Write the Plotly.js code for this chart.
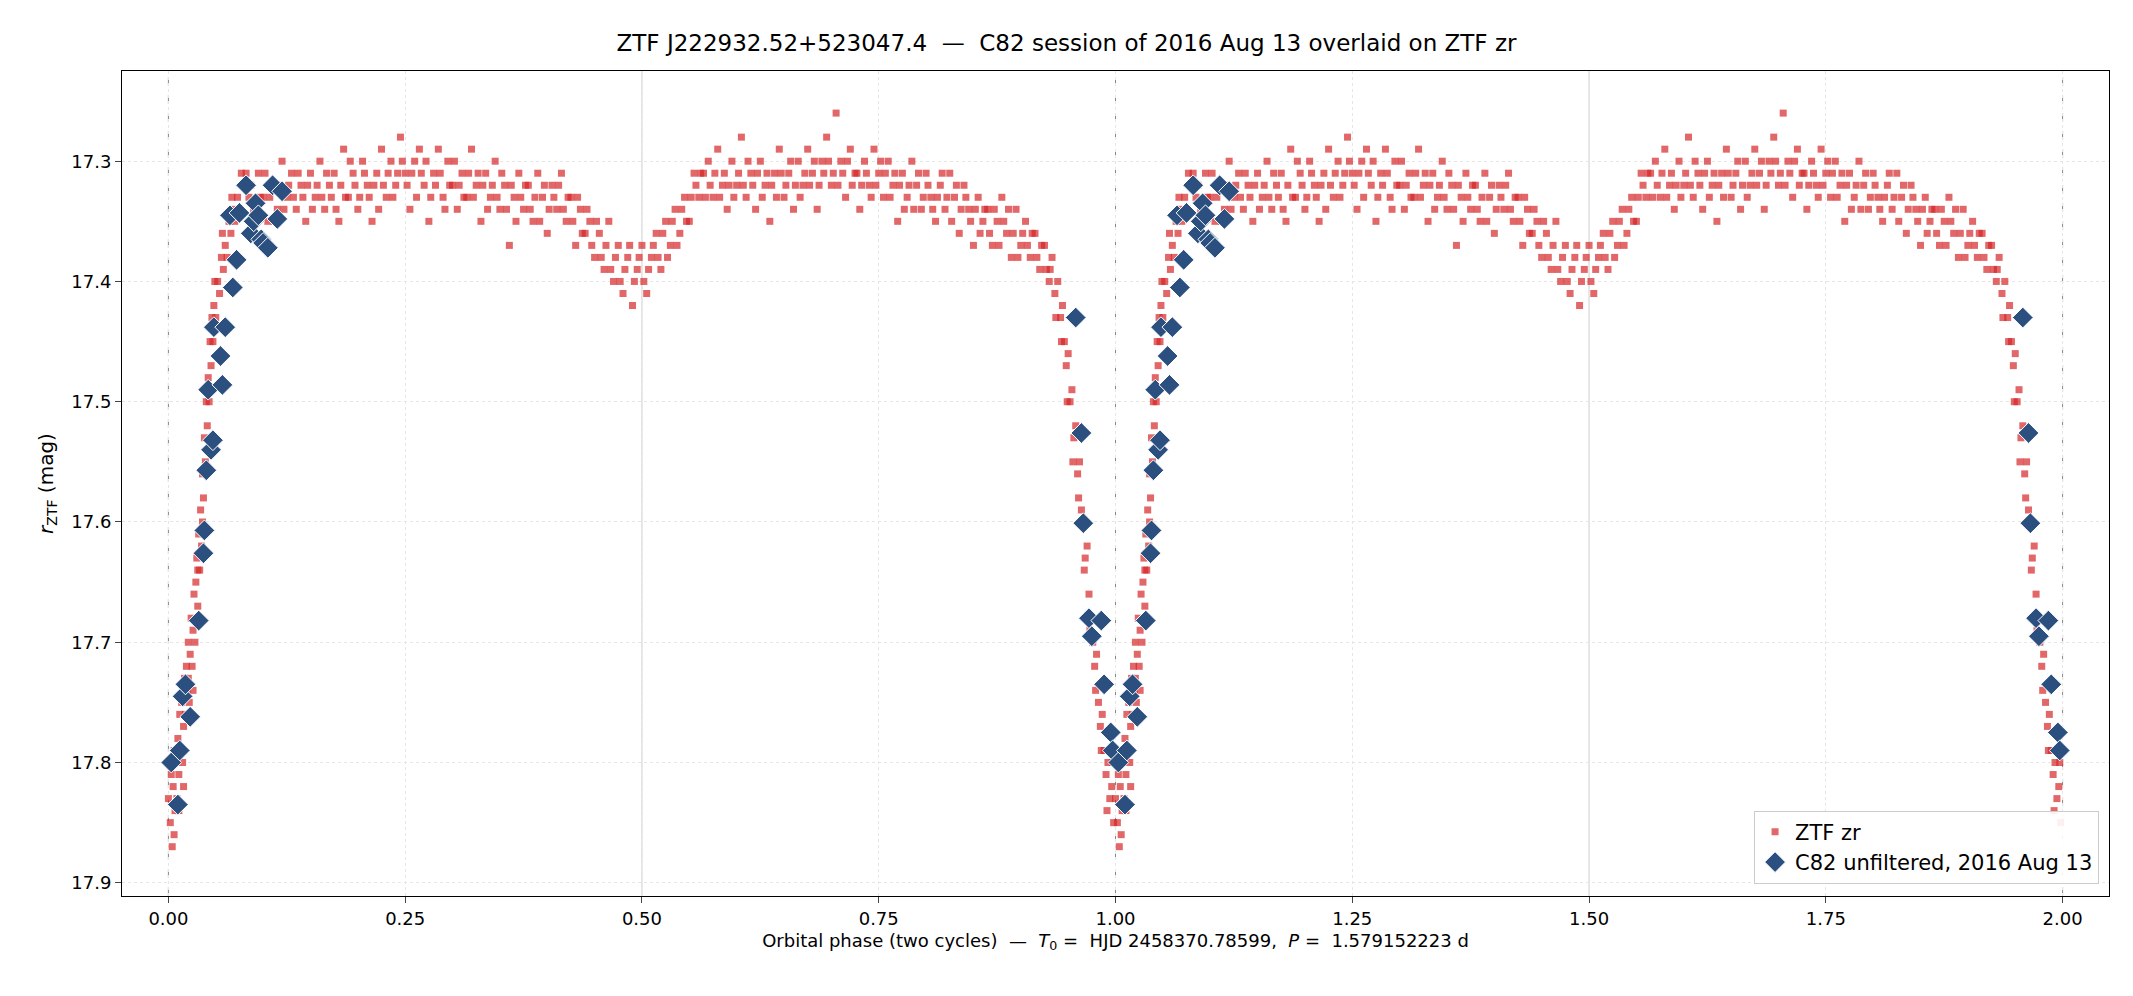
<!DOCTYPE html>
<html><head><meta charset="utf-8">
<script src="https://cdn.plot.ly/plotly-3.0.1.min.js"></script>
<style>body{margin:0;background:#fff}#c{width:2133px;height:996px}</style>
</head><body><div id="c"></div>
<script>
// ZTF zr, one cycle: [phase, mag]
const ztfCycle = [
[0.000,17.83],[0.002,17.85],[0.003,17.81],[0.004,17.87],[0.005,17.82],[0.006,17.79],[0.007,17.84],[0.008,17.80],[0.009,17.83],[0.010,17.78],
[0.011,17.81],[0.012,17.76],[0.013,17.79],[0.014,17.75],[0.015,17.80],[0.016,17.77],[0.017,17.73],[0.018,17.76],[0.019,17.72],[0.020,17.74],
[0.021,17.70],[0.022,17.75],[0.023,17.71],[0.024,17.68],[0.025,17.72],[0.026,17.69],[0.027,17.66],[0.028,17.70],[0.029,17.65],[0.030,17.63],
[0.031,17.67],[0.032,17.61],[0.033,17.64],[0.034,17.59],[0.035,17.62],[0.036,17.56],[0.037,17.58],[0.038,17.53],[0.039,17.55],[0.040,17.50],
[0.041,17.52],[0.042,17.48],[0.043,17.50],[0.044,17.45],[0.045,17.47],[0.046,17.43],[0.047,17.45],[0.048,17.42],[0.050,17.43],[0.052,17.40],
[0.054,17.41],[0.056,17.38],[0.058,17.39],[0.060,17.37],[0.062,17.38],[0.064,17.35],[0.066,17.36],[0.068,17.34],[0.070,17.35],[0.073,17.33],
[0.076,17.34],[0.079,17.32],[0.082,17.31],[0.085,17.33],
[0.090,17.34],[0.095,17.31],[0.100,17.33],[0.105,17.35],[0.110,17.32],[0.115,17.34],[0.120,17.30],[0.125,17.33],[0.130,17.31],[0.135,17.34],
[0.140,17.32],[0.145,17.35],[0.150,17.31],[0.155,17.33],[0.160,17.30],[0.165,17.34],[0.170,17.32],[0.175,17.31],[0.180,17.35],[0.185,17.29],
[0.190,17.33],[0.195,17.31],[0.200,17.34],[0.205,17.30],[0.210,17.32],[0.215,17.35],[0.220,17.31],[0.225,17.29],[0.230,17.33],[0.235,17.30],
[0.240,17.32],[0.245,17.28],[0.250,17.31],[0.255,17.34],[0.260,17.30],[0.265,17.29],[0.270,17.32],[0.275,17.35],[0.280,17.31],[0.285,17.29],
[0.290,17.33],[0.295,17.30],[0.300,17.32],[0.305,17.34],[0.310,17.31],[0.315,17.33],[0.320,17.29],[0.325,17.32],[0.330,17.35],[0.335,17.31],
[0.340,17.33],[0.345,17.30],[0.350,17.34],[0.355,17.32],[0.360,17.37],[0.365,17.33],[0.370,17.31],[0.375,17.34],[0.380,17.32],[0.385,17.35],
[0.390,17.31],[0.395,17.33],[0.400,17.36],[0.405,17.32],[0.410,17.34],[0.415,17.31],[0.420,17.35],[0.425,17.33],[0.430,17.37],[0.435,17.34],
[0.440,17.36],[0.445,17.35],
[0.450,17.38],[0.455,17.36],[0.460,17.39],[0.465,17.35],[0.470,17.40],[0.475,17.37],[0.480,17.41],[0.485,17.38],[0.490,17.42],[0.495,17.39],
[0.500,17.37],[0.505,17.41],[0.510,17.38],[0.515,17.36],[0.520,17.39],[0.525,17.35],[0.530,17.37],[0.535,17.34],[0.540,17.36],[0.545,17.33],
[0.550,17.35],[0.555,17.31],[0.560,17.33],
[0.565,17.31],[0.570,17.30],[0.575,17.33],[0.580,17.29],[0.585,17.32],[0.590,17.34],[0.595,17.30],[0.600,17.32],[0.605,17.28],[0.610,17.33],
[0.615,17.31],[0.620,17.34],[0.625,17.30],[0.630,17.32],[0.635,17.35],[0.640,17.31],[0.645,17.29],[0.650,17.33],[0.655,17.31],[0.660,17.34],
[0.665,17.30],[0.670,17.32],[0.675,17.29],[0.680,17.31],[0.685,17.34],[0.690,17.30],[0.695,17.28],[0.700,17.32],[0.705,17.26],[0.710,17.30],
[0.715,17.33],[0.720,17.29],[0.725,17.31],[0.730,17.34],[0.735,17.30],[0.740,17.32],[0.745,17.29],[0.750,17.31],[0.755,17.33],[0.760,17.30],
[0.765,17.32],[0.770,17.35],[0.775,17.31],[0.780,17.33],[0.785,17.30],[0.790,17.32],[0.795,17.34],[0.800,17.31],[0.805,17.33],[0.810,17.35],
[0.815,17.32],[0.820,17.34],[0.825,17.31],[0.830,17.33],[0.835,17.36],[0.840,17.32],[0.845,17.34],[0.850,17.37],[0.855,17.33],[0.860,17.35],
[0.865,17.34],[0.870,17.37],[0.875,17.35],[0.880,17.33],[0.885,17.36],[0.890,17.38],[0.895,17.34],[0.900,17.37],[0.905,17.35],[0.910,17.38],
[0.915,17.36],[0.920,17.39],[0.925,17.37],[0.930,17.40],[0.933,17.38],[0.936,17.41],[0.939,17.40],[0.942,17.43],[0.944,17.42],[0.946,17.45],
[0.948,17.47],[0.950,17.46],[0.952,17.50],[0.954,17.49],[0.956,17.53],[0.958,17.52],[0.960,17.56],[0.962,17.55],[0.964,17.59],[0.966,17.60],
[0.968,17.63],[0.970,17.62],[0.972,17.66],[0.974,17.68],[0.976,17.70],[0.978,17.72],[0.980,17.71],[0.982,17.75],[0.984,17.77],[0.986,17.76],
[0.988,17.79],[0.990,17.81],[0.992,17.80],[0.994,17.83],[0.996,17.82],[0.998,17.85]
];
// extra ZTF zr points (same cycle) read between the ones above: [phase, mag]
const ztfCycleExtra = [
[0.001,17.80],[0.006,17.86],[0.011,17.84],[0.016,17.82],[0.021,17.73],[0.026,17.74],[0.031,17.64],[0.036,17.60],[0.041,17.49],[0.049,17.40],
[0.057,17.36],[0.067,17.33],[0.077,17.31],[0.087,17.32],[0.092,17.35],[0.097,17.33],[0.102,17.31],[0.107,17.33],[0.112,17.35],[0.117,17.32],
[0.122,17.34],[0.127,17.32],[0.132,17.33],[0.137,17.31],[0.142,17.33],[0.147,17.32],[0.152,17.34],[0.157,17.32],[0.162,17.33],[0.167,17.31],
[0.172,17.33],[0.177,17.34],[0.182,17.32],[0.187,17.33],[0.192,17.30],[0.197,17.32],[0.202,17.33],[0.207,17.31],[0.212,17.33],[0.217,17.32],
[0.222,17.34],[0.227,17.32],[0.232,17.31],[0.237,17.33],[0.242,17.31],[0.247,17.30],[0.252,17.32],[0.257,17.31],[0.262,17.33],[0.267,17.31],
[0.272,17.30],[0.277,17.33],[0.282,17.32],[0.287,17.31],[0.292,17.34],[0.297,17.32],[0.302,17.30],[0.307,17.32],[0.312,17.33],[0.317,17.31],
[0.322,17.33],[0.327,17.31],[0.332,17.32],[0.337,17.34],[0.342,17.32],[0.347,17.33],[0.352,17.31],[0.357,17.34],[0.362,17.32],[0.367,17.35],
[0.372,17.33],[0.377,17.32],[0.382,17.34],[0.387,17.33],[0.392,17.35],[0.397,17.32],[0.402,17.34],[0.407,17.33],[0.412,17.32],[0.417,17.34],
[0.422,17.33],[0.427,17.35],[0.432,17.33],[0.437,17.36],[0.442,17.34],[0.447,17.37],[0.452,17.35],[0.457,17.38],[0.462,17.37],[0.467,17.39],
[0.472,17.38],[0.477,17.40],[0.482,17.39],[0.487,17.37],[0.492,17.40],[0.497,17.38],[0.502,17.40],[0.507,17.39],[0.512,17.37],[0.517,17.38],
[0.522,17.36],[0.527,17.38],[0.532,17.35],[0.537,17.37],[0.542,17.34],[0.547,17.35],[0.552,17.33],[0.557,17.32],[0.562,17.31],[0.567,17.33],
[0.572,17.32],[0.577,17.31],[0.582,17.33],[0.587,17.31],[0.592,17.32],[0.597,17.33],[0.602,17.31],[0.607,17.32],[0.612,17.30],[0.617,17.32],
[0.622,17.31],[0.627,17.33],[0.632,17.31],[0.637,17.32],[0.642,17.33],[0.647,17.31],[0.652,17.32],[0.657,17.30],[0.662,17.32],[0.667,17.33],
[0.672,17.31],[0.677,17.32],[0.682,17.30],[0.687,17.32],[0.692,17.31],[0.697,17.30],[0.702,17.31],[0.707,17.32],[0.712,17.31],[0.717,17.30],
[0.722,17.32],[0.727,17.31],[0.732,17.32],[0.737,17.31],[0.742,17.33],[0.747,17.32],[0.752,17.30],[0.757,17.31],[0.762,17.33],[0.767,17.31],
[0.772,17.32],[0.777,17.34],[0.782,17.32],[0.787,17.34],[0.792,17.31],[0.797,17.33],[0.802,17.32],[0.807,17.34],[0.812,17.33],[0.817,17.31],
[0.822,17.33],[0.827,17.35],[0.832,17.32],[0.837,17.34],[0.842,17.33],[0.847,17.35],[0.852,17.34],[0.857,17.36],[0.862,17.34],[0.867,17.36],
[0.872,17.34],[0.877,17.37],[0.882,17.35],[0.887,17.34],[0.892,17.36],[0.897,17.38],[0.902,17.36],[0.907,17.37],[0.912,17.36],[0.917,17.38],
[0.922,17.37],[0.927,17.39],[0.931,17.39],[0.937,17.43],[0.943,17.45],[0.949,17.50],[0.955,17.55],[0.961,17.58],[0.967,17.64],[0.973,17.69],
[0.979,17.74],[0.985,17.79],[0.991,17.84],[0.997,17.80]
];
// C82 unfiltered, 2016 Aug 13, one cycle: [phase, mag]
const c82Cycle = [
[0.003,17.80],[0.010,17.835],[0.012,17.79],[0.015,17.745],[0.018,17.735],[0.023,17.762],[0.032,17.682],[0.037,17.626],[0.038,17.607],[0.040,17.557],
[0.042,17.49],[0.045,17.54],[0.047,17.532],[0.048,17.438],[0.055,17.462],[0.057,17.486],[0.060,17.438],[0.065,17.345],[0.068,17.405],[0.072,17.382],
[0.075,17.343],[0.082,17.32],[0.087,17.36],[0.090,17.35],[0.092,17.335],[0.095,17.345],[0.098,17.365],[0.100,17.368],[0.105,17.372],[0.110,17.32],
[0.115,17.348],[0.120,17.325],
[0.958,17.43],[0.964,17.526],[0.966,17.601],[0.972,17.68],[0.975,17.695],[0.985,17.682],[0.988,17.735],[0.995,17.775],[0.997,17.79]
];
const cycles = [0, 1];
const titleText = "ZTF J222932.52+523047.4  —  C82 session of 2016 Aug 13 overlaid on ZTF zr";
const xTitle = "Orbital phase (two cycles)  —  <i>T</i><sub>0</sub> =  HJD 2458370.78599,  <i>P</i> =  1.579152223 d";
const yTitle = "<i>r</i><sub>ZTF</sub> (mag)";
const xTicks = [0,0.25,0.5,0.75,1,1.25,1.5,1.75,2];
const xTickText = ["0.00","0.25","0.50","0.75","1.00","1.25","1.50","1.75","2.00"];
const yTicks = [17.3,17.4,17.5,17.6,17.7,17.8,17.9];

const ztfAll = ztfCycle.concat(ztfCycleExtra);
const unfold = (arr, i) => cycles.flatMap(c => arr.map(p => p[i] + (i === 0 ? c : 0)));

const traces = [
 {x: unfold(ztfAll,0), y: unfold(ztfAll,1), mode:'markers', type:'scatter', name:'ZTF zr',
  marker:{symbol:'square', size:7, color:'rgba(214,39,40,0.7)'}},
 {x: unfold(c82Cycle,0), y: unfold(c82Cycle,1), mode:'markers', type:'scatter', name:'C82 unfiltered, 2016 Aug 13',
  marker:{symbol:'diamond', size:16, color:'#2b5080', line:{color:'#ffffff', width:1}}}
];
const vline = (x, dash, col) => ({type:'line', xref:'x', yref:'paper', x0:x, x1:x, y0:0, y1:1, line:{color:col, width:1, dash:dash}, layer:'below'});
const layout = {
 width:2133, height:996, paper_bgcolor:'#fff', plot_bgcolor:'#fff',
 font:{family:'DejaVu Sans', size:18, color:'#000'},
 title:{text:titleText, x:0.5, y:0.965, font:{size:23}},
 margin:{l:122, r:24, t:71, b:100},
 xaxis:{range:[-0.049,2.049], tickvals:xTicks, ticktext:xTickText, showgrid:true, gridcolor:'#e6e6e6', griddash:'dot',
  zeroline:false, showline:true, mirror:true, linecolor:'#000', ticks:'outside', ticklen:6,
  title:{text:xTitle, font:{size:18}, standoff:6}},
 yaxis:{range:[17.911,17.225], tickvals:yTicks, tickformat:'.1f', showgrid:true, gridcolor:'#e6e6e6', griddash:'dot',
  zeroline:false, showline:true, mirror:true, linecolor:'#000', ticks:'outside', ticklen:6,
  title:{text:yTitle, font:{size:20}, standoff:12}},
 shapes:[vline(0,'dash','#888'), vline(1,'dash','#888'), vline(2,'dash','#888'), vline(0.5,'solid','#ccc'), vline(1.5,'solid','#ccc')],
 legend:{x:0.995, y:0.015, xanchor:'right', yanchor:'bottom', bordercolor:'#ccc', borderwidth:1, bgcolor:'rgba(255,255,255,0.9)', font:{size:21}},
};
Plotly.newPlot('c', traces, layout, {displayModeBar:false});
</script></body></html>
